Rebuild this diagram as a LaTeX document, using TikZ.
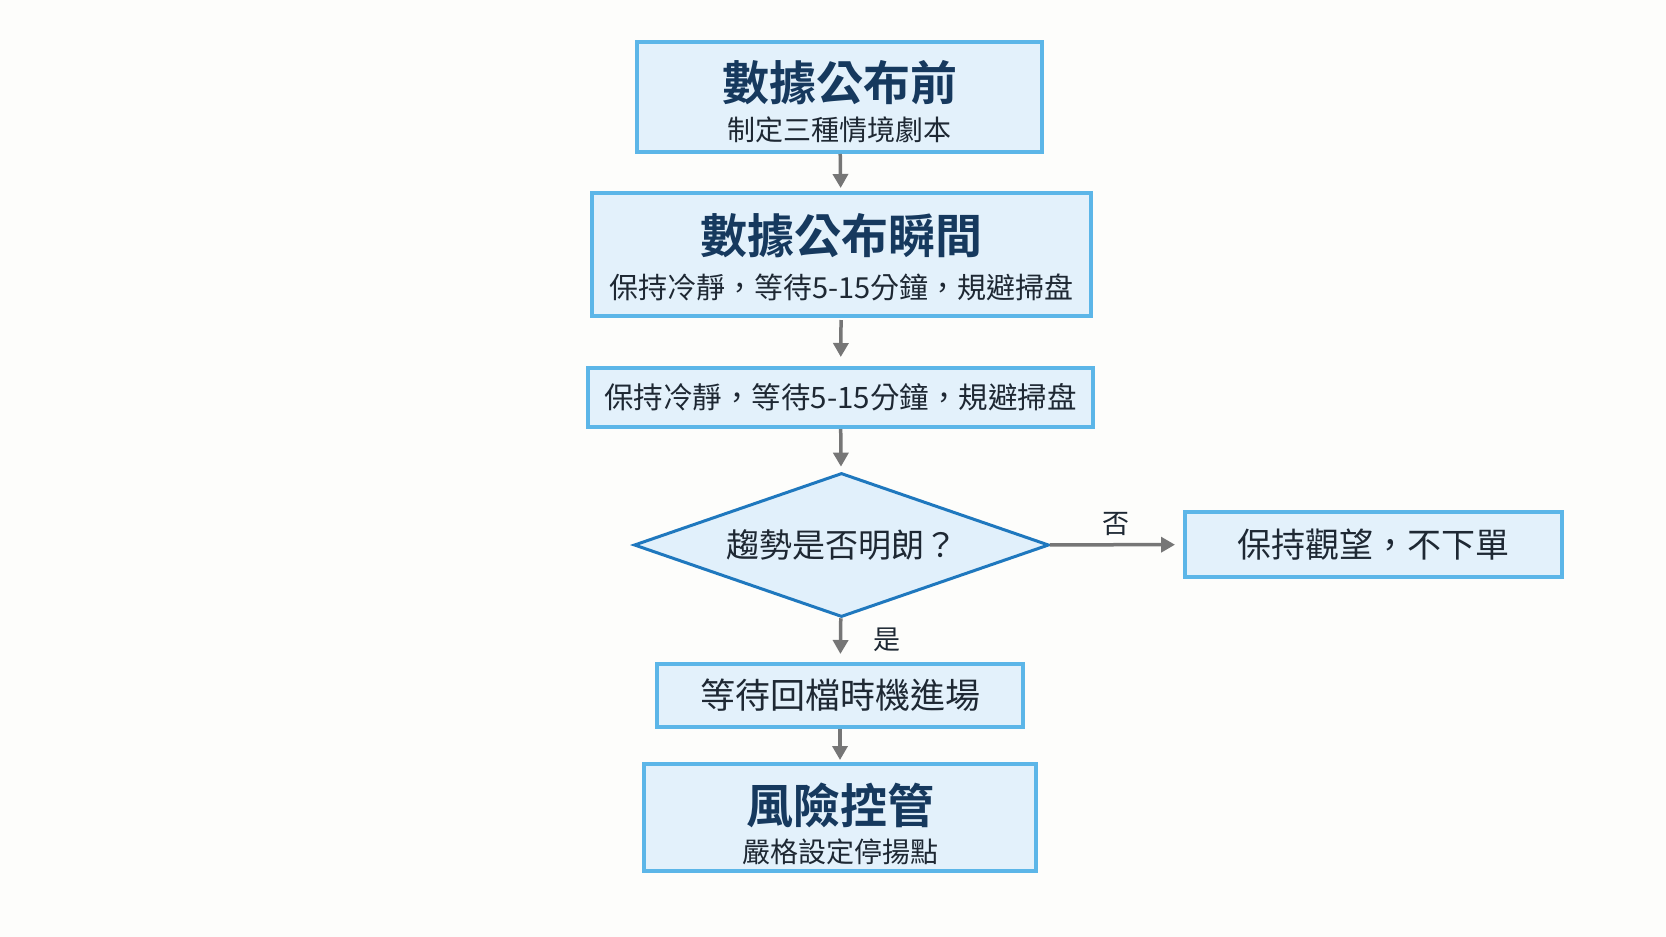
\documentclass[tikz,border=0pt]{standalone}
\usepackage{fontspec}
\newfontfamily\cjk{Noto Sans CJK TC}[BoldFont={Noto Sans CJK TC Bold}]
\usetikzlibrary{shapes.geometric,arrows.meta}

\definecolor{bgpaper}{HTML}{FDFDFB}
\definecolor{boxfill}{HTML}{E3F1FB}
\definecolor{boxline}{HTML}{5CB6E8}
\definecolor{diafill}{HTML}{E1F0FB}
\definecolor{dialine}{HTML}{1F78BE}
\definecolor{titlecol}{HTML}{16395E}
\definecolor{textcol}{HTML}{1E2833}
\definecolor{arrowcol}{HTML}{767676}

% 標題行（第一參數為行頂留白）與副標題行
\newcommand\boxtitle[2]{{\fontsize{47}{47}\selectfont\bfseries\color{titlecol}\rule{0pt}{#1}#2}}
\newcommand\boxsub[2][28]{{\fontsize{#1}{#1}\selectfont\color{textcol}#2}}

\begin{document}
\begin{tikzpicture}[
        x=1pt, y=-1pt, % 以像素為單位，原點在左上
        font=\cjk,
        stepbox/.style={draw=boxline, fill=boxfill, line width=4pt, align=center, inner sep=0pt, text=textcol}, % 流程方框
        decision/.style={diamond, draw=dialine, fill=diafill, line width=3pt, inner sep=0pt, aspect=2.88, text=textcol}, % 判斷菱形
        flow/.style={draw=arrowcol, line width=3.5pt, -{Triangle[length=14pt,width=15pt]}}, % 灰色箭頭
        lbl/.style={font=\cjk\fontsize{27}{27}\selectfont, text=textcol},
    ]

    \fill[bgpaper] (0,0) rectangle (1666,937);
    \useasboundingbox (0,0) rectangle (1666,937);

    \node[stepbox, minimum width=405pt, minimum height=110pt] (before) at (839.5,97)
        {\boxtitle{50pt}{數據公布前}\\[11pt]\boxsub{制定三種情境劇本}};
    \node[stepbox, minimum width=499pt, minimum height=123pt] (moment) at (841.5,254.5)
        {\boxtitle{45pt}{數據公布瞬間}\\[15pt]\boxsub[29]{保持冷靜，等待5-15分鐘，規避掃盘}};
    \node[stepbox, minimum width=505pt, minimum height=59pt, font=\cjk\fontsize{29.5}{29.5}\selectfont] (calm) at (840.5,397.5)
        {保持冷靜，等待5-15分鐘，規避掃盘};
    \node[decision, minimum width=415pt, minimum height=144pt, font=\cjk\fontsize{33}{33}\selectfont] (trend) at (841.5,545)
        {趨勢是否明朗？};
    \node[stepbox, minimum width=377pt, minimum height=65pt, font=\cjk\fontsize{34}{34}\selectfont] (wait) at (1373.5,544.5)
        {保持觀望，不下單};
    \node[stepbox, minimum width=366pt, minimum height=63pt, font=\cjk\fontsize{35}{35}\selectfont] (entry) at (840,695.5)
        {等待回檔時機進場};
    \node[stepbox, minimum width=392pt, minimum height=107pt] (risk) at (840,817.5)
        {\boxtitle{54pt}{風險控管}\\[10pt]\boxsub{嚴格設定停揚點}};

    \draw[flow, shorten >=3pt] (before) -- (moment);
    \draw[flow, shorten <=2pt, shorten >=9pt] (moment) -- (calm);
    \draw[flow, shorten >=5pt] (calm) -- (trend);
    \draw[flow, shorten >=8pt] (trend) -- node[lbl, right=28pt] {是} (entry);
    \draw[flow, shorten >=2pt] (entry) -- (risk);
    \draw[flow, shorten >=8pt] (trend) -- node[lbl, above=4pt] {否} (wait);
\end{tikzpicture}
\end{document}
